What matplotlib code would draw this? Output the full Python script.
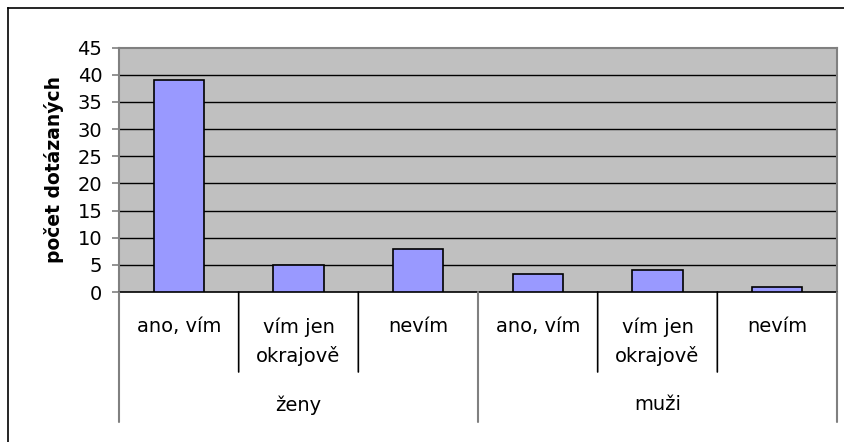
import numpy as np
import matplotlib.pyplot as plt
from matplotlib.lines import Line2D

plt.rcParams['font.family'] = ['DejaVu Sans']

groups = ['ženy', 'muži']
answers = ['ano, vím', 'vím jen\nokrajově', 'nevím']
values_zeny = [39, 4.9, 7.9]
values_muzi = [3.3, 4.1, 1.0]
y_ticks = [0, 5, 10, 15, 20, 25, 30, 35, 40, 45]
y_label = 'počet dotázaných'

W, H = 845, 442
fig = plt.figure(figsize=(W / 100, H / 100), dpi=100)


def px(x, y):
    return x / W, 1 - y / H


# outer chart border (only top and left visible)
fig.add_artist(Line2D([8 / W, 1], [1 - 8 / H] * 2, color='black', lw=1.2,
                      transform=fig.transFigure))
fig.add_artist(Line2D([8 / W] * 2, [0, 1 - 8 / H], color='black', lw=1.2,
                      transform=fig.transFigure))

left, top = px(119, 47.7)
right, bottom = px(837, 292)
ax = fig.add_axes([left, bottom, right - left, top - bottom])
ax.set_facecolor('#C0C0C0')

values = values_zeny + values_muzi
x = np.arange(len(values))
ax.bar(x, values, width=0.42, color='#9999FF', edgecolor='black',
       linewidth=1.2, zorder=3)

ax.set_xlim(-0.5, len(values) - 0.5)
ax.set_ylim(0, 45)
ax.set_yticks(y_ticks)
ax.set_yticklabels([str(t) for t in y_ticks], fontsize=14)
ax.tick_params(axis='y', direction='out', length=5, color='#808080',
               width=1.2, pad=7)
ax.set_xticks([])
for yv in y_ticks[1:-1]:
    ax.axhline(yv, color='black', lw=1.0, zorder=1)

for side in ['top', 'right', 'left']:
    ax.spines[side].set_color('#808080')
    ax.spines[side].set_linewidth(1.5)
ax.spines['bottom'].set_color('black')
ax.spines['bottom'].set_linewidth(1.2)

ax.set_ylabel(y_label, fontsize=13.5, fontweight='bold', labelpad=10)

# category axis with two levels
labels = answers * len(groups)
for i, lab in enumerate(labels):
    lines = lab.split('\n')
    for j, line in enumerate(lines):
        ax.annotate(line, xy=(i, 0), xycoords='data',
                    xytext=(0, -(35 + 29 * j) * 0.72), textcoords='offset points',
                    ha='center', va='center', fontsize=14,
                    annotation_clip=False)

n = len(answers)
for k in range(len(values) + 1):
    xb = k - 0.5
    outer = (k % n == 0)
    depth = 422 - 292 if outer else 372 - 292
    ax.annotate('', xy=(xb, 0), xycoords='data',
                xytext=(0, -depth * 0.72), textcoords='offset points',
                arrowprops=dict(arrowstyle='-', color='#808080' if outer else 'black',
                                lw=1.5 if outer else 1.2, shrinkA=0, shrinkB=0),
                annotation_clip=False)

for g, name in enumerate(groups):
    xc = g * n + (n - 1) / 2
    ax.annotate(name, xy=(xc, 0), xycoords='data',
                xytext=(0, -(405 - 292) * 0.72), textcoords='offset points',
                ha='center', va='center', fontsize=14,
                annotation_clip=False)

fig.savefig('out.png', dpi=100)
